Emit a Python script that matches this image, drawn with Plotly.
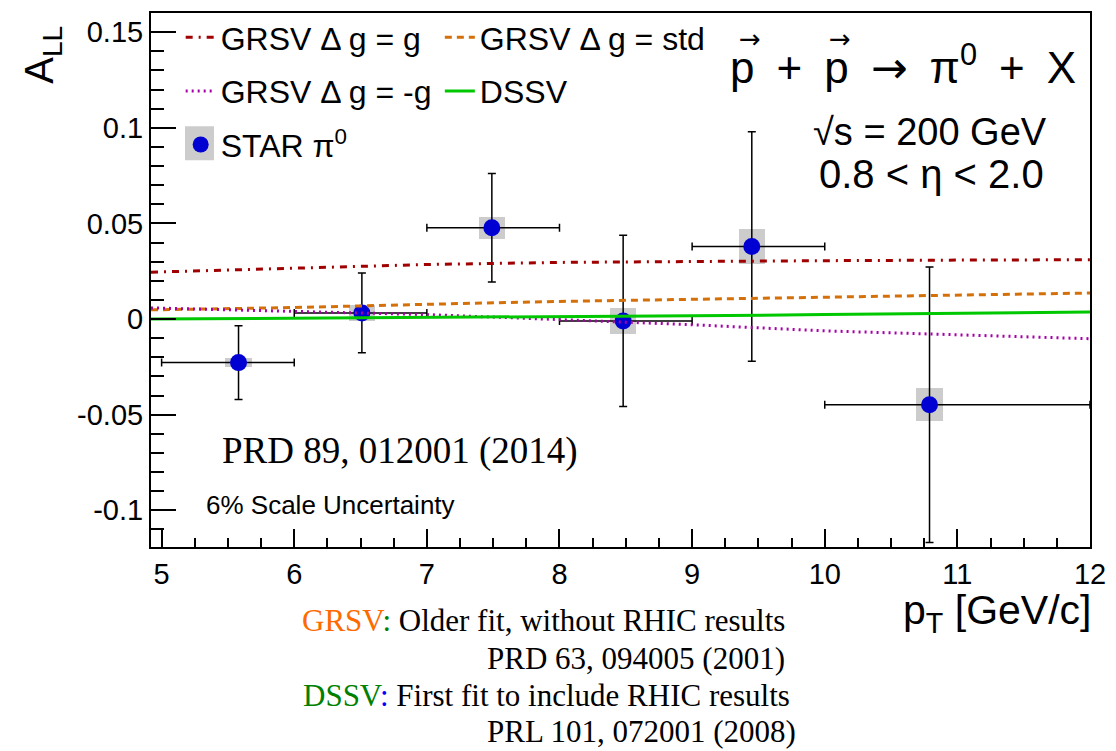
import plotly.graph_objects as go

# ---------------- data ----------------
pt = [5.58, 6.51, 7.49, 8.48, 9.45, 10.79]
a_ll = [-0.0228, 0.0032, 0.0477, -0.0010, 0.0379, -0.0448]
stat_err = [0.0193, 0.0208, 0.0284, 0.0448, 0.0600, 0.0720]
sys_err = [0.0024, 0.0040, 0.0059, 0.0069, 0.0093, 0.0087]
bin_lo = [5, 6, 7, 8, 9, 10]
bin_hi = [6, 7, 8, 9, 10, 12]

theory_pt = [4.92, 6, 7, 8, 9, 10, 11, 12]
grsv_g = [0.0245, 0.0265, 0.0285, 0.0296, 0.0302, 0.0305, 0.0308, 0.0310]
grsv_std = [0.0048, 0.0060, 0.0077, 0.0092, 0.0103, 0.0113, 0.0124, 0.0136]
grsv_mg = [0.0058, 0.0040, 0.0023, -0.0003, -0.0030, -0.0062, -0.0083, -0.0103]
dssv = [0.0000, 0.0004, 0.0008, 0.0013, 0.0017, 0.0023, 0.0030, 0.0037]

y_tickvals = [-0.1, -0.05, 0, 0.05, 0.1, 0.15]
y_ticktext = ["-0.1", "-0.05", "0", "0.05", "0.1", "0.15"]
x_tickvals = [5, 6, 7, 8, 9, 10, 11, 12]
x_ticktext = ["5", "6", "7", "8", "9", "10", "11", "12"]

BOX_W = 0.2
SANS = "Liberation Sans, Arial, sans-serif"
SERIF = "Liberation Serif, Times New Roman, serif"
ARROWF = "DejaVu Sans"
SP = "\u2002"

fig = go.Figure()

# systematic boxes
fig.add_trace(go.Bar(
    x=pt, y=[2 * s for s in sys_err], base=[v - s for v, s in zip(a_ll, sys_err)],
    width=BOX_W, marker=dict(color="#cccccc", line=dict(width=0)),
    showlegend=False, hoverinfo="skip"))

# data points
fig.add_trace(go.Scatter(
    x=pt, y=a_ll, mode="markers", name="STAR π<sup>0</sup>",
    marker=dict(color="#0000d2", size=17),
    error_y=dict(type="data", array=stat_err, color="black", thickness=1.5, width=4),
    error_x=dict(type="data", array=[h - x for h, x in zip(bin_hi, pt)],
                 arrayminus=[x - l for l, x in zip(bin_lo, pt)],
                 color="black", thickness=1.5, width=4),
    legend="legend", legendgroup="star", legendrank=3))

# theory curves
fig.add_trace(go.Scatter(x=theory_pt, y=grsv_g, mode="lines", name="GRSV Δ g = g",
                         line=dict(color="#a00000", width=3, dash="7px,6px,2px,6px"),
                         legend="legend", legendgroup="g1", legendrank=1))
fig.add_trace(go.Scatter(x=theory_pt, y=grsv_std, mode="lines", name="GRSV Δ g = std",
                         line=dict(color="#d4700a", width=3, dash="7px,5px"),
                         legend="legend2", legendgroup="g2", legendrank=1))
fig.add_trace(go.Scatter(x=theory_pt, y=grsv_mg, mode="lines", name="GRSV Δ g = -g",
                         line=dict(color="#a800a8", width=3, dash="2px,4px"),
                         legend="legend", legendgroup="g3", legendrank=2))
fig.add_trace(go.Scatter(x=theory_pt, y=dssv, mode="lines", name="DSSV",
                         line=dict(color="#00c800", width=3),
                         legend="legend2", legendgroup="g4", legendrank=2))

legend_common = dict(font=dict(family=SANS, size=32, color="black"),
                     bgcolor="rgba(0,0,0,0)", borderwidth=0,
                     tracegroupgap=9, itemwidth=30,
                     xanchor="left", yanchor="top", traceorder="grouped")

fig.update_layout(
    width=1116, height=751,
    margin=dict(l=151, r=26, t=10, b=204),
    paper_bgcolor="white", plot_bgcolor="white",
    font=dict(family=SANS, color="black"),
    legend=dict(x=0.0316, y=1.0056, **legend_common),
    legend2=dict(x=0.3076, y=1.0056, **legend_common),
    bargap=0,
)

fig.update_xaxes(
    range=[4.92, 12.0], tickmode="array", tickvals=x_tickvals, ticktext=x_ticktext,
    ticks="inside", ticklen=18, tickwidth=1.5, tickcolor="black",
    minor=dict(tickmode="linear", tick0=5, dtick=0.25, ticks="inside", ticklen=9,
               tickwidth=1.5, tickcolor="black", showgrid=False),
    showgrid=False, zeroline=False, showline=True, linewidth=2, linecolor="black",
    mirror=True, tickfont=dict(size=29, family=SANS, color="black"))

fig.update_yaxes(
    range=[-0.1192, 0.160], tickmode="array", tickvals=y_tickvals, ticktext=y_ticktext,
    ticks="inside", ticklen=25, tickwidth=1.5, tickcolor="black",
    minor=dict(tickmode="linear", tick0=0, dtick=0.01, ticks="inside", ticklen=13,
               tickwidth=1.5, tickcolor="black", showgrid=False),
    showgrid=False, zeroline=False, showline=True, linewidth=2, linecolor="black",
    mirror=True, tickfont=dict(size=29, family=SANS, color="black"))


def px_x(p):
    return (p - 151) / 939


def px_y(p):
    return (547 - p) / 537


# gray box behind the STAR legend marker
fig.add_shape(type="rect", xref="paper", yref="paper",
              x0=px_x(185), x1=px_x(214), y0=px_y(158), y1=px_y(124),
              fillcolor="#cccccc", line=dict(width=0), layer="above")

reaction = SP.join(["p", "+", "p", f'<span style="font-family:{ARROWF}">→</span>',
                    "π<sup>0</sup>", "+", "X"])

annots = [
    dict(text=reaction, x=px_x(903), y=px_y(62), size=44, family=SANS, xanchor="center"),
    dict(text="√s = 200 GeV", x=px_x(930), y=px_y(130), size=38, family=SANS,
         xanchor="center"),
    dict(text="0.8 < η < 2.0", x=px_x(931), y=px_y(172), size=40, family=SANS,
         xanchor="center"),
    dict(text="PRD 89, 012001 (2014)", x=px_x(220), y=px_y(450), size=37,
         family=SERIF, xanchor="left"),
    dict(text="6% Scale Uncertainty", x=px_x(204), y=px_y(505), size=26,
         family=SANS, xanchor="left"),
    dict(text="p<sub>T</sub> [GeV/c]", x=px_x(1093), y=px_y(613), size=41,
         family=SANS, xanchor="right"),
    dict(text='<span style="color:#ff6a00">GRSV</span><span style="color:#008000">:</span> Older fit, without RHIC results',
         x=px_x(787), y=px_y(621), size=31, family=SERIF, xanchor="right"),
    dict(text="PRD 63, 094005 (2001)", x=px_x(787), y=px_y(659), size=31,
         family=SERIF, xanchor="right"),
    dict(text='<span style="color:#008000">DSSV</span><span style="color:#0000ff">:</span> First fit to include RHIC results',
         x=px_x(792), y=px_y(696), size=31, family=SERIF, xanchor="right"),
    dict(text="PRL 101, 072001 (2008)", x=px_x(798), y=px_y(733), size=31,
         family=SERIF, xanchor="right"),
]
for a in annots:
    fig.add_annotation(text=a["text"], x=a["x"], y=a["y"], xref="paper", yref="paper",
                       xanchor=a["xanchor"], yanchor="middle", showarrow=False,
                       font=dict(size=a["size"], family=a["family"], color="black"))

# vector arrows over the two p's
for arrow_px in (750, 840):
    fig.add_annotation(text="→", x=px_x(arrow_px), y=px_y(36), xref="paper",
                       yref="paper", xanchor="center", yanchor="middle",
                       showarrow=False, font=dict(size=26, family=ARROWF, color="black"))

fig.add_annotation(text="A<sub>LL</sub>", x=px_x(42), y=px_y(52), xref="paper",
                   yref="paper", xanchor="center", yanchor="middle", showarrow=False,
                   textangle=-90, font=dict(size=40, family=SANS, color="black"))

fig.write_html("out.html")
